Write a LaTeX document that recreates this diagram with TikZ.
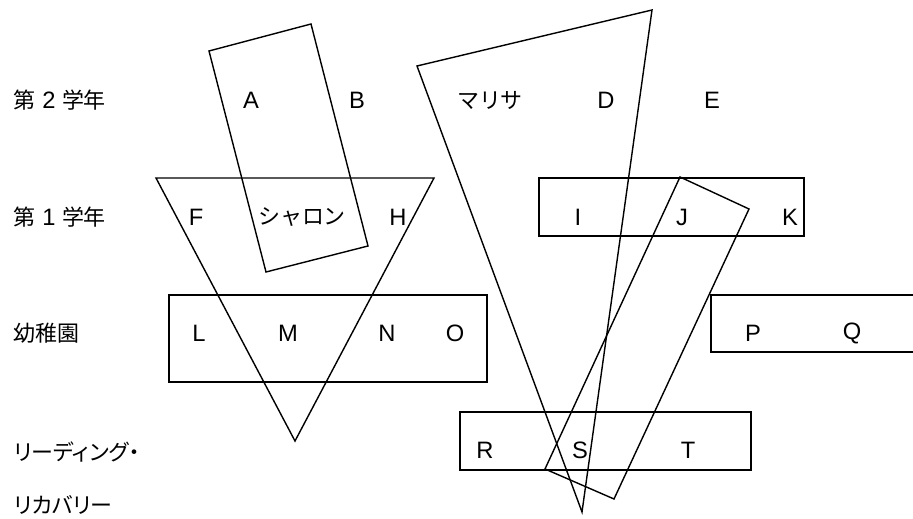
\documentclass[tikz,border=0pt]{standalone}
\usepackage{fontspec}
\setmainfont{Liberation Sans}
\newfontfamily\jpfont{Noto Sans CJK JP}
\newfontfamily\jppropfont[RawFeature=+palt]{Noto Sans CJK JP}
\newcommand{\grpfont}{\fontsize{13.5}{15}\selectfont}
\newcommand{\grpjpfont}{\fontsize{12.5}{14}\selectfont\jpfont}
\tikzset{
    grp/chart/.style={x=0.02cm, y=-0.02cm, font=\grpfont, line width=0.8pt},
    grp/grade/.style={anchor=west, inner sep=0pt},
    grp/pupil/.style={inner sep=1pt},
    grp/set/.style={draw=black, line join=miter}
}
\begin{document}
\begin{tikzpicture}[grp/chart]
    \useasboundingbox (0,0) rectangle (913,519);
    % groups
    \draw[grp/set] (209,51) -- (311,24) -- (368,246) -- (266,272) -- cycle;
    \draw[grp/set] (156,178) -- (434,178) -- (295,441) -- cycle;
    \draw[grp/set] (417,66) -- (652,10) -- (582,512) -- cycle;
    \draw[grp/set] (539,178) rectangle (804,236);
    \draw[grp/set] (680,177) -- (749,209) -- (614,499) -- (545,469) -- cycle;
    \draw[grp/set] (169,295) rectangle (487,382);
    \draw[grp/set] (711,295) rectangle (925,352);
    \draw[grp/set] (460,412) rectangle (751,470);
    % grades
    \node[grp/grade] (year2) at (13,100) {{\grpjpfont 第} 2 {\grpjpfont 学年}};
    \node[grp/grade] (year1) at (13,217) {{\grpjpfont 第} 1 {\grpjpfont 学年}};
    \node[grp/grade] (kinder) at (13,333) {\grpjpfont 幼稚園};
    \node[grp/grade] (rr1) at (13,452) {\fontsize{12.5}{14}\selectfont\jppropfont リーディング・};
    \node[grp/grade] (rr2) at (13,505) {\fontsize{12.5}{14}\selectfont\jppropfont リカバリー};
    % pupils
    \node[grp/pupil] (A) at (251,100) {A};
    \node[grp/pupil] (B) at (357,100) {B};
    \node[grp/pupil] (marisa) at (490,100) {\grpjpfont マリサ};
    \node[grp/pupil] (D) at (606,100) {D};
    \node[grp/pupil] (E) at (712,100) {E};
    \node[grp/pupil] (F) at (196,217) {F};
    \node[grp/pupil] (sharon) at (302,217) {\grpjpfont シャロン};
    \node[grp/pupil] (H) at (398,217) {H};
    \node[grp/pupil] (I) at (578,217) {I};
    \node[grp/pupil] (J) at (682,217) {J};
    \node[grp/pupil] (K) at (790,217) {K};
    \node[grp/pupil] (L) at (199,333) {L};
    \node[grp/pupil] (M) at (288,333) {M};
    \node[grp/pupil] (N) at (387,333) {N};
    \node[grp/pupil] (O) at (455,333) {O};
    \node[grp/pupil] (P) at (753,333) {P};
    \node[grp/pupil] (Q) at (852,333) {Q};
    \node[grp/pupil] (R) at (485,450) {R};
    \node[grp/pupil] (S) at (580,450) {S};
    \node[grp/pupil] (T) at (688,450) {T};
\end{tikzpicture}
\end{document}
